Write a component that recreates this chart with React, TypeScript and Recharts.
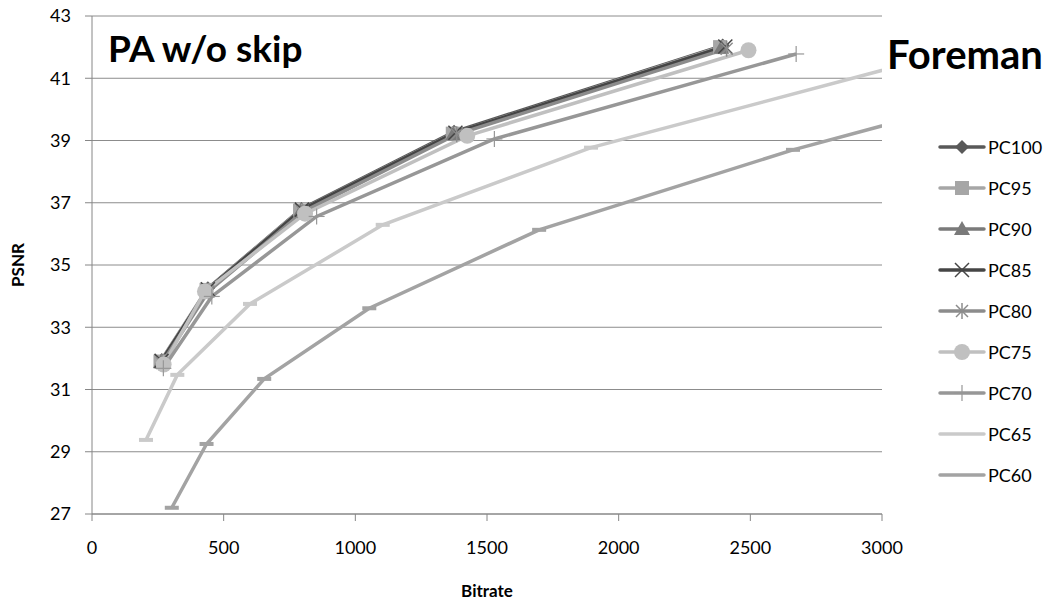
import React from 'react';
import { LineChart, Line, XAxis, YAxis, CartesianGrid, Label } from 'recharts';

// [bitrate, psnr] pairs
const pc100 = [[265, 31.95], [440, 34.25], [795, 36.8], [1375, 39.28], [2395, 42.05]];
const pc95 = [[260, 31.9], [435, 34.2], [790, 36.75], [1370, 39.22], [2385, 42.0]];
const pc90 = [[262, 31.88], [437, 34.18], [792, 36.72], [1372, 39.2], [2390, 41.98]];
const pc85 = [[264, 31.92], [440, 34.22], [797, 36.78], [1380, 39.25], [2405, 42.02]];
const pc80 = [[266, 31.85], [442, 34.15], [800, 36.7], [1385, 39.2], [2410, 41.95]];
const pc75 = [[272, 31.8], [429, 34.15], [809, 36.65], [1425, 39.15], [2493, 41.9]];
const pc70 = [[271, 31.68], [455, 33.99], [853, 36.56], [1528, 39.05], [2674, 41.78]];
const pc65 = [[205, 29.38], [324, 31.47], [600, 33.75], [1104, 36.29], [1895, 38.77], [3600, 42.6]];
const pc60 = [[303, 27.2], [435, 29.25], [654, 31.34], [1053, 33.61], [1698, 36.13], [2662, 38.7], [4300, 42.43]];

const xTicks = [0, 500, 1000, 1500, 2000, 2500, 3000];
const yTicks = [27, 29, 31, 33, 35, 37, 39, 41, 43];

type Shape = 'diamond' | 'square' | 'triangle' | 'x' | 'star' | 'circle' | 'plus' | 'dash';

const series: { name: string; points: number[][]; color: string; shape: Shape }[] = [
  { name: 'PC100', points: pc100, color: '#595959', shape: 'diamond' },
  { name: 'PC95', points: pc95, color: '#a6a6a6', shape: 'square' },
  { name: 'PC90', points: pc90, color: '#7a7a7a', shape: 'triangle' },
  { name: 'PC85', points: pc85, color: '#454545', shape: 'x' },
  { name: 'PC80', points: pc80, color: '#8c8c8c', shape: 'star' },
  { name: 'PC75', points: pc75, color: '#c0c0c0', shape: 'circle' },
  { name: 'PC70', points: pc70, color: '#979797', shape: 'plus' },
  { name: 'PC65', points: pc65, color: '#cacaca', shape: 'dash' },
  { name: 'PC60', points: pc60, color: '#a3a3a3', shape: 'dash' },
];

const FONT = 'Lato, "Liberation Sans", sans-serif';

function marker(shape: Shape, color: string, cx: number, cy: number, key?: string) {
  switch (shape) {
    case 'diamond':
      return <polygon key={key} points={`${cx},${cy - 7} ${cx + 7},${cy} ${cx},${cy + 7} ${cx - 7},${cy}`} fill={color} />;
    case 'square':
      return <rect key={key} x={cx - 7} y={cy - 7} width={14} height={14} fill={color} />;
    case 'triangle':
      return <polygon key={key} points={`${cx},${cy - 8} ${cx + 8},${cy + 6} ${cx - 8},${cy + 6}`} fill={color} />;
    case 'x':
      return (
        <g key={key} stroke={color} strokeWidth={1.5}>
          <line x1={cx - 7} y1={cy - 7} x2={cx + 7} y2={cy + 7} />
          <line x1={cx - 7} y1={cy + 7} x2={cx + 7} y2={cy - 7} />
        </g>
      );
    case 'star':
      return (
        <g key={key} stroke={color} strokeWidth={1.5}>
          <line x1={cx - 6} y1={cy - 6} x2={cx + 6} y2={cy + 6} />
          <line x1={cx - 6} y1={cy + 6} x2={cx + 6} y2={cy - 6} />
          <line x1={cx} y1={cy - 8} x2={cx} y2={cy + 8} />
        </g>
      );
    case 'circle':
      return <circle key={key} cx={cx} cy={cy} r={8} fill={color} />;
    case 'plus':
      return (
        <g key={key} stroke={color} strokeWidth={1.2}>
          <line x1={cx - 8} y1={cy} x2={cx + 8} y2={cy} />
          <line x1={cx} y1={cy - 8} x2={cx} y2={cy + 8} />
        </g>
      );
    default:
      return <rect key={key} x={cx - 7} y={cy - 2} width={14} height={4} fill={color} />;
  }
}

function makeDot(name: string, shape: Shape, color: string) {
  return (props: any) => {
    const { cx, cy, index } = props;
    if (cx == null || cy == null) return <g key={`${name}-${index}`} />;
    return marker(shape, color, cx, cy, `${name}-${index}`);
  };
}

function LegendBox() {
  return (
    <div style={{ position: 'absolute', left: 938, top: 126 }}>
      {series.map((s) => (
        <div key={s.name} style={{ display: 'flex', alignItems: 'center', height: 41 }}>
          <svg width={48} height={22}>
            <line x1={2} y1={11} x2={46} y2={11} stroke={s.color} strokeWidth={3.5} strokeLinecap="round" />
            {s.shape !== 'dash' && marker(s.shape, s.color, 24, 11)}
          </svg>
          <span style={{ fontFamily: FONT, fontSize: 18, color: '#000', marginLeft: 2 }}>{s.name}</span>
        </div>
      ))}
    </div>
  );
}

export default function App() {
  return (
    <div style={{ position: 'absolute', left: 0, top: 0, width: 1062, height: 610, background: '#fff', overflow: 'hidden' }}>
      <LineChart width={1062} height={610} margin={{ top: 16, right: 180, left: 32, bottom: 14 }}>
        <CartesianGrid vertical={false} stroke="#8c8c8c" strokeWidth={1} />
        <XAxis
          type="number"
          dataKey="x"
          domain={[0, 3000]}
          ticks={xTicks}
          allowDataOverflow
          height={82}
          stroke="#868686"
          tickSize={7}
          tickMargin={20}
          tick={{ fill: '#000', fontSize: 18, fontFamily: FONT }}
        >
          <Label value="Bitrate" position="insideBottom" offset={-1} style={{ fontFamily: FONT, fontSize: 17, fontWeight: 700, fill: '#000' }} />
        </XAxis>
        <YAxis
          type="number"
          dataKey="y"
          domain={[27, 43]}
          ticks={yTicks}
          allowDataOverflow
          width={60}
          stroke="#868686"
          tickSize={7}
          tickMargin={14}
          tick={{ fill: '#000', fontSize: 18, fontFamily: FONT }}
        >
          <Label value="PSNR" angle={-90} position="insideLeft" offset={-14} style={{ fontFamily: FONT, fontSize: 17, fontWeight: 700, fill: '#000', textAnchor: 'middle' }} />
        </YAxis>
        {series.map((s) => (
          <Line
            key={s.name}
            name={s.name}
            data={s.points.map(([x, y]) => ({ x, y }))}
            dataKey="y"
            stroke={s.color}
            strokeWidth={3.5}
            dot={makeDot(s.name, s.shape, s.color)}
            activeDot={false}
            isAnimationActive={false}
          />
        ))}
      </LineChart>
      <div style={{ position: 'absolute', left: 108, top: 26, fontFamily: FONT, fontWeight: 700, fontSize: 37, lineHeight: '44px', color: '#000' }}>
        PA w/o skip
      </div>
      <div style={{ position: 'absolute', left: 887, top: 31, fontFamily: FONT, fontWeight: 700, fontSize: 40, lineHeight: '46px', color: '#000', whiteSpace: 'nowrap' }}>
        Foreman
      </div>
      <LegendBox />
    </div>
  );
}
